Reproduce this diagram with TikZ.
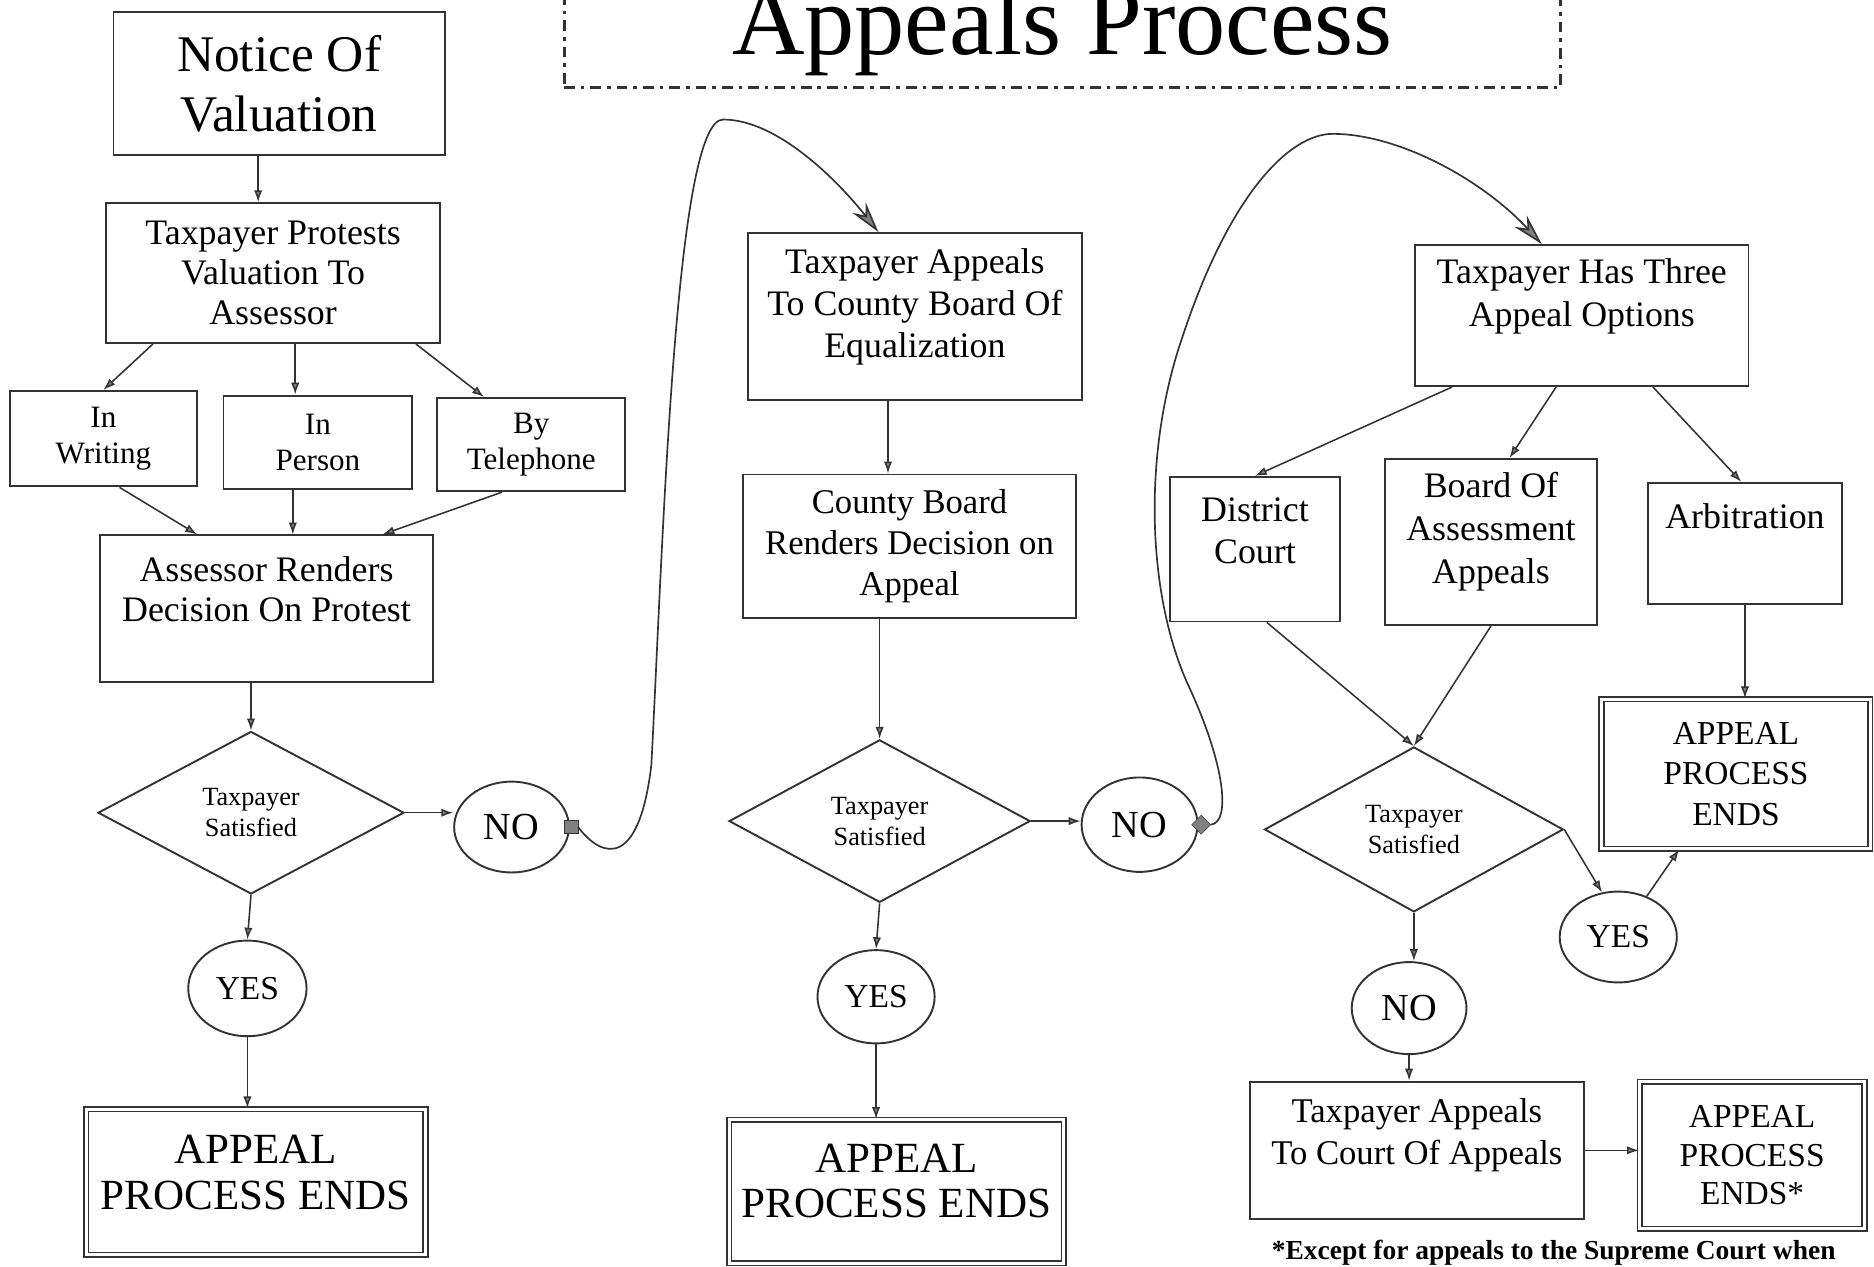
\documentclass[tikz,border=0pt]{standalone}
\usepackage{fontspec}
\setmainfont{Liberation Serif}
\usetikzlibrary{shapes.geometric,arrows.meta}
\colorlet{linec}{black!80}

\begin{document}
\begin{tikzpicture}[x=1pt,y=-1pt,
    fs/.style 2 args={font=\fontsize{#1}{#2}\selectfont},
    box/.style={draw=linec,line width=1.6pt,inner sep=0pt,align=center},
    endbox/.style={draw=linec,double,double distance=2.5pt,line width=1.3pt,inner sep=0pt,align=center},
    dec/.style={diamond,draw=linec,line width=1.6pt,inner sep=0pt,aspect=2,align=center,fs={22}{26}},
    oval/.style={ellipse,draw=linec,line width=1.6pt,inner sep=0pt},
    arr/.style={draw=linec,line width=1.3pt,-{Latex[length=10pt,width=7pt,fill=gray]}},
    loop/.style={draw=linec,line width=1.4pt,-{Stealth[length=26pt,width=14pt,fill=gray]}}]
\useasboundingbox (0,0) rectangle (1568,1060);
\clip (0,0) rectangle (1568,1060);

% title
\node[draw=linec,line width=2.5pt,dash pattern=on 9pt off 5pt on 3pt off 5pt,
      minimum width=834pt,minimum height=96pt,fs={84}{90}] (title) at (889,25) {Appeals Process};

% assessor column
\node[box,minimum width=277pt,minimum height=120pt,fs={43}{50}] (notice) at (233.5,70) {Notice Of\\Valuation};
\node[box,minimum width=279pt,minimum height=117pt,fs={30}{33.5}] (prot) at (228.5,228.5) {Taxpayer Protests\\Valuation To\\Assessor};
\node[box,minimum width=157pt,minimum height=80pt,fs={26}{30}] (wri) at (86.5,367) {In\\Writing};
\node[box,minimum width=158pt,minimum height=78pt,fs={26}{30}] (per) at (266,370) {In\\Person};
\node[box,minimum width=157pt,minimum height=78pt,fs={26}{30}] (tel) at (444.5,372) {By\\Telephone};
\node[box,minimum width=278pt,minimum height=123pt,
      label={[fs={30}{33},align=center,yshift=16.5pt]center:{Assessor Renders\\Decision On Protest}}] (asr) at (223,509.5) {};
\node[dec,minimum width=256pt,minimum height=136pt] (dia1) at (210,680) {Taxpayer\\Satisfied};
\node[oval,minimum width=96pt,minimum height=76pt,fs={32}{34}] (no1) at (428,692) {NO};
\node[draw=linec,fill=gray,minimum size=11pt,inner sep=0pt] (sq1) at (478,692) {};
\node[oval,minimum width=99pt,minimum height=80pt,fs={28}{30}] (yes1) at (207,827) {YES};
\node[endbox,minimum width=284pt,minimum height=122pt,
      label={[fs={36}{38},align=center,yshift=8pt]center:{APPEAL\\PROCESS ENDS}}] (end1) at (214,989) {};

% county board column
\node[box,minimum width=279pt,minimum height=140pt,
      label={[fs={30}{35},align=center,yshift=8pt]center:{Taxpayer Appeals\\To County Board Of\\Equalization}}] (qa) at (765.5,265) {};
\node[box,minimum width=278pt,minimum height=120pt,fs={29}{34.5}] (cb) at (761,457) {County Board\\Renders Decision on\\Appeal};
\node[dec,minimum width=252pt,minimum height=136pt] (dia2) at (736,687) {Taxpayer\\Satisfied};
\node[oval,minimum width=97pt,minimum height=79pt,fs={32}{34}] (no2) at (953.5,690) {NO};
\node[diamond,draw=linec,fill=gray,minimum size=16pt,inner sep=0pt] (dm2) at (1005,690) {};
\node[oval,minimum width=98pt,minimum height=78pt,fs={28}{30}] (yes2) at (733,834) {YES};
\node[endbox,minimum width=280pt,minimum height=120pt,
      label={[fs={36}{38},align=center,yshift=9pt]center:{APPEAL\\PROCESS ENDS}}] (end2) at (750,997) {};

% three options column
\node[box,minimum width=279pt,minimum height=118pt,
      label={[fs={30}{36},align=center,yshift=16pt]center:{Taxpayer Has Three\\Appeal Options}}] (three) at (1323.5,264) {};
\node[box,minimum width=142pt,minimum height=121pt,
      label={[fs={30}{35},align=center,yshift=15.5pt]center:{District\\Court}}] (dc) at (1050,459.5) {};
\node[box,minimum width=177pt,minimum height=139pt,
      label={[fs={30}{36},align=center,yshift=8.5pt]center:{Board Of\\Assessment\\Appeals}}] (boa) at (1247.5,453.5) {};
\node[box,minimum width=162pt,minimum height=101pt,
      label={[fs={30}{35},yshift=22.5pt]center:Arbitration}] (arb) at (1460,454.5) {};
\node[dec,minimum width=250pt,minimum height=138pt] (dia3) at (1183,694) {Taxpayer\\Satisfied};
\node[oval,minimum width=96pt,minimum height=77pt,fs={32}{34}] (no3) at (1179,843.5) {NO};
\node[oval,minimum width=98pt,minimum height=76pt,fs={28}{30}] (yes3) at (1354,784) {YES};
\node[endbox,minimum width=225pt,minimum height=125pt,fs={28}{34}] (end3) at (1452.5,647.5) {APPEAL\\PROCESS\\ENDS};
\node[box,minimum width=279pt,minimum height=115pt,
      label={[fs={29}{35},align=center,yshift=12.5pt]center:{Taxpayer Appeals\\To Court Of Appeals}}] (coa) at (1185.5,962.5) {};
\node[endbox,minimum width=188pt,minimum height=123pt,fs={28}{32}] (end4) at (1466,966.5) {APPEAL\\PROCESS\\ENDS*};
\node[anchor=base,font=\bfseries\fontsize{23}{25}\selectfont] (note) at (1300,1054) {*Except for appeals to the Supreme Court when};

% arrows, assessor column
\draw[arr] ([xshift=-17.5pt]notice.south) -- ([xshift=-12.5pt]prot.north);
\draw[arr] ([xshift=-100.5pt]prot.south) -- (wri.north);
\draw[arr] ([xshift=18.5pt]prot.south) -- ([xshift=-19pt]per.north);
\draw[arr] ([xshift=119.5pt]prot.south) -- ([xshift=-39.5pt]tel.north);
\draw[arr] ([xshift=13.5pt]wri.south) -- ([xshift=-58pt]asr.north);
\draw[arr] ([xshift=-21pt]per.south) -- ([xshift=22pt]asr.north);
\draw[arr] ([xshift=-24.5pt]tel.south) -- ([xshift=97pt]asr.north);
\draw[arr] (asr.south -| dia1.north) -- (dia1.north);
\draw[arr] (dia1.east) -- (dia1.east -| no1.west);
\draw[arr] (dia1.south) -- (yes1.north);
\draw[arr] (yes1.south) -- (yes1.south |- end1.north);

% arrows, county board column
\draw[arr] ([xshift=-22.5pt]qa.south) -- ([xshift=-18pt]cb.north);
\draw[arr] (cb.south -| dia2.north) -- (dia2.north);
\draw[arr] (dia2.east) -- (dia2.east -| no2.west);
\draw[arr] (dia2.south) -- (yes2.north);
\draw[arr] (yes2.south) -- (yes2.south |- end2.north);

% arrows, three options column
\draw[arr] ([xshift=-108.5pt]three.south) -- (dc.north);
\draw[arr] ([xshift=-21.5pt]three.south) -- ([xshift=15.5pt]boa.north);
\draw[arr] ([xshift=59.5pt]three.south) -- ([xshift=-3pt]arb.north);
\draw[arr] ([xshift=10pt]dc.south) -- (dia3.north);
\draw[arr] (boa.south) -- (dia3.north);
\draw[arr] (arb.south) -- (arb.south |- end3.north);
\draw[arr] (dia3.east) -- (yes3.110);
\draw[arr] (yes3.55) -- ([xshift=-47.5pt]end3.south);
\draw[arr] (dia3.south) -- (dia3.south |- no3.north);
\draw[arr] (no3.south) -- (no3.south |- coa.north);
\draw[arr] (coa.east) -- (coa.east -| end4.west);

% the two NO loops
\draw[loop] (sq1.east) .. controls (505,720) and (535,725) .. (545,640)
    .. controls (555,450) and (565,100) .. (605,100)
    .. controls (650,100) and (700,150) .. ([xshift=-30.5pt]qa.north);
\draw[loop] (dm2.east) .. controls (1030,688) and (1025,640) .. (995,575)
    .. controls (960,500) and (955,380) .. (990,280)
    .. controls (1030,160) and (1080,112) .. (1115,112)
    .. controls (1170,112) and (1240,150) .. ([xshift=-33.5pt]three.north);
\end{tikzpicture}
\end{document}
